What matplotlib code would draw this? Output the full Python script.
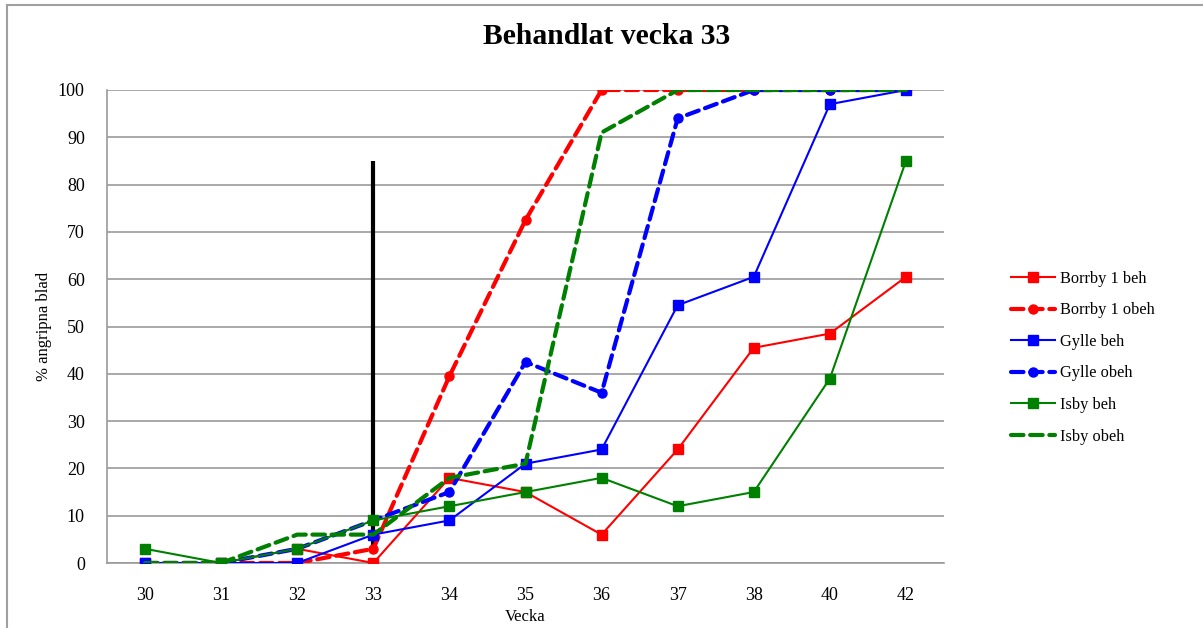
import matplotlib
matplotlib.use("Agg")
import matplotlib.pyplot as plt
from matplotlib.patches import Rectangle

plt.rcParams['font.family'] = ['Liberation Serif', 'DejaVu Serif']

weeks = ["30", "31", "32", "33", "34", "35", "36", "37", "38", "40", "42"]
borrby_beh = [0, 0, 3, 0, 18, 15, 6, 24, 45.5, 48.5, 60.5]
borrby_obeh = [0, 0, 0, 3, 39.5, 72.5, 100, 100, 100, 100, 100]
gylle_beh = [0, 0, 0, 6, 9, 21, 24, 54.5, 60.5, 97, 100]
gylle_obeh = [0, 0, 3, 9, 15, 42.5, 36, 94, 100, 100, 100]
isby_beh = [3, 0, 3, 9, 12, 15, 18, 12, 15, 39, 85]
isby_obeh = [0, 0, 6, 6, 18, 21, 91, 100, 100, 100, 100]
labels = ["Borrby 1 beh", "Borrby 1 obeh", "Gylle beh", "Gylle obeh", "Isby beh", "Isby obeh"]
treat_week_index = 3
treat_line_range = [3, 85]

fig = plt.figure(figsize=(12.03, 6.28), dpi=100)
# outer chart frame
fig.patches.append(Rectangle((7/1203, -0.1), 1.2, 1 - 5/628 + 0.1, transform=fig.transFigure,
                             fill=False, edgecolor='#a0a0a0', linewidth=1.5))
ax = fig.add_axes([107/1203, 1 - 563/628, (944-107)/1203, (563-90)/628])

x = list(range(len(weeks)))
ax.plot([treat_week_index, treat_week_index], treat_line_range, color='black', lw=3, zorder=2,
        solid_capstyle='butt')

dash = (0, (3, 1.6))
series = [
    (borrby_beh, 'red', '-', 's', 1.5, 7),
    (borrby_obeh, 'red', dash, 'o', 3, 6.5),
    (gylle_beh, 'blue', '-', 's', 1.5, 7),
    (gylle_obeh, 'blue', dash, 'o', 3, 6.5),
    (isby_beh, 'green', '-', 's', 1.5, 7),
    (isby_obeh, 'green', dash, 'None', 3, 6.5),
]
color_map = {'red': '#ff0000', 'blue': '#0000ff', 'green': '#008000'}
handles = []
for (vals, c, ls, mk, lw, ms), lab in zip(series, labels):
    col = color_map[c]
    ln, = ax.plot(x, vals, color=col, linestyle=ls, marker=mk, lw=lw, ms=ms,
                  markeredgecolor=col, markerfacecolor=col, zorder=3, label=lab,
                  dash_capstyle='round')
    handles.append(ln)

ax.set_xlim(-0.5, len(weeks) - 0.5)
ax.set_ylim(0, 100)
ax.set_yticks(range(0, 101, 10))
ax.set_xticks(x)
ax.set_xticklabels(weeks)
ax.yaxis.grid(True, color='#9a9a9a', lw=1.2)
ax.set_axisbelow(True)
for s in ['top', 'right']:
    ax.spines[s].set_visible(False)
for s in ['left', 'bottom']:
    ax.spines[s].set_color('#9a9a9a')
    ax.spines[s].set_linewidth(1.2)
ax.tick_params(axis='both', length=0, labelsize=13)
ax.tick_params(axis='x', pad=17)
ax.tick_params(axis='y', pad=16)
ax.set_ylabel("% angripna blad", fontsize=12, labelpad=4)
ax.set_xlabel("Vecka", fontsize=12, labelpad=4)

fig.text(607/1203, 1 - 36/628, "Behandlat vecka 33", ha='center', va='center',
         fontsize=21.3, fontweight='bold')

leg = fig.legend(handles=handles, labels=labels, loc='upper left',
                 bbox_to_anchor=(996/1203, 1 - 256/628), frameon=False,
                 fontsize=11.8, handlelength=2.7, labelspacing=0.95, handletextpad=0.3)

fig.savefig("out.png", dpi=100)
